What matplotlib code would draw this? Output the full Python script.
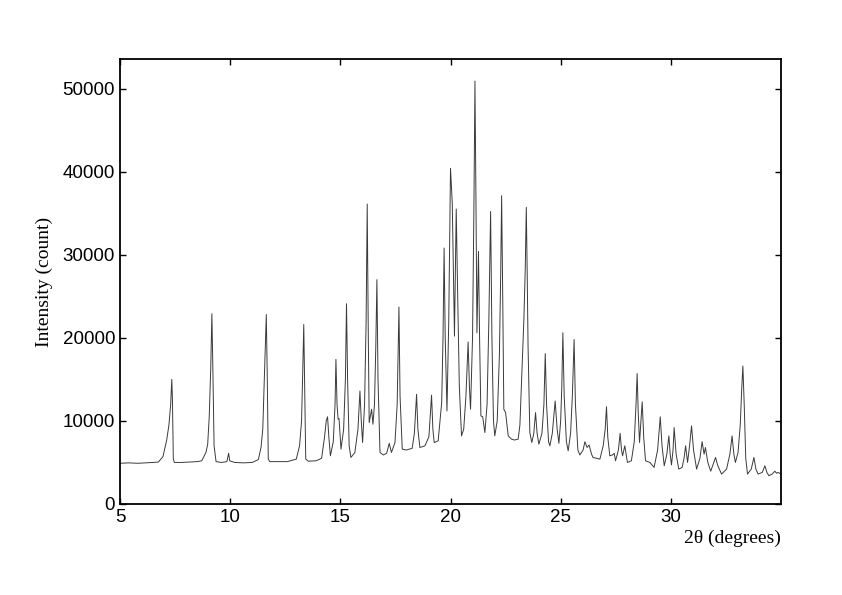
#! /usr/bin/env python3
import numpy as np
import matplotlib
matplotlib.use('Agg')
import matplotlib.pyplot as plt

# powder pattern (2theta in deg, intensity in counts)
two_theta = [
    5.00, 5.40, 5.80, 6.20, 6.50, 6.74, 6.95, 7.12, 7.22, 7.30,
    7.35, 7.38, 7.42, 7.47, 7.80, 8.20, 8.50, 8.71, 8.90, 8.98,
    9.05, 9.12, 9.17, 9.21, 9.27, 9.36, 9.60, 9.85, 9.93, 9.98,
    10.20, 10.60, 11.00, 11.28, 11.40, 11.48, 11.55, 11.64, 11.68, 11.73,
    11.80, 12.20, 12.60, 13.00, 13.15, 13.24, 13.29, 13.34, 13.38, 13.43,
    13.55, 13.90, 14.15, 14.28, 14.36, 14.42, 14.48, 14.55, 14.68, 14.76,
    14.80, 14.85, 14.90, 14.94, 15.03, 15.15, 15.23, 15.28, 15.33, 15.40,
    15.48, 15.66, 15.80, 15.89, 15.95, 16.01, 16.10, 16.17, 16.22, 16.27,
    16.31, 16.36, 16.42, 16.48, 16.55, 16.61, 16.66, 16.71, 16.80, 16.95,
    17.10, 17.22, 17.32, 17.48, 17.58, 17.66, 17.71, 17.81, 18.00, 18.26,
    18.36, 18.46, 18.52, 18.61, 18.84, 19.02, 19.14, 19.20, 19.26, 19.44,
    19.60, 19.66, 19.71, 19.76, 19.84, 19.92, 20.00, 20.08, 20.14, 20.18,
    20.26, 20.32, 20.40, 20.50, 20.60, 20.70, 20.80, 20.86, 20.91, 21.00,
    21.06, 21.11, 21.16, 21.20, 21.27, 21.32, 21.38, 21.46, 21.56, 21.66,
    21.74, 21.82, 21.88, 21.95, 22.01, 22.12, 22.22, 22.28, 22.32, 22.37,
    22.42, 22.50, 22.62, 22.77, 22.90, 23.07, 23.15, 23.23, 23.33, 23.39,
    23.44, 23.48, 23.52, 23.60, 23.69, 23.78, 23.86, 23.93, 24.01, 24.15,
    24.24, 24.30, 24.36, 24.45, 24.51, 24.62, 24.75, 24.84, 24.92, 25.00,
    25.05, 25.10, 25.16, 25.26, 25.34, 25.45, 25.53, 25.61, 25.67, 25.78,
    25.87, 26.02, 26.10, 26.20, 26.29, 26.40, 26.47, 26.78, 26.93, 27.02,
    27.08, 27.14, 27.23, 27.35, 27.43, 27.49, 27.62, 27.70, 27.76, 27.81,
    27.91, 28.03, 28.21, 28.34, 28.42, 28.47, 28.52, 28.58, 28.70, 28.77,
    28.85, 29.05, 29.24, 29.40, 29.52, 29.60, 29.70, 29.82, 29.91, 29.97,
    30.03, 30.10, 30.15, 30.24, 30.36, 30.51, 30.60, 30.67, 30.76, 30.85,
    30.94, 31.03, 31.17, 31.32, 31.42, 31.51, 31.57, 31.68, 31.81, 31.95,
    32.03, 32.12, 32.30, 32.53, 32.68, 32.78, 32.86, 32.93, 33.05, 33.15,
    33.22, 33.27, 33.33, 33.40, 33.48, 33.65, 33.77, 33.86, 33.96, 34.15,
    34.27, 34.36, 34.45, 34.60, 34.72, 34.80, 34.87, 35.00,
]
intensity = [
    4900, 4950, 4900, 4950, 5000, 5050, 5700, 7700, 9500, 12000,
    15000, 12500, 5400, 5000, 5000, 5050, 5100, 5200, 6200, 7200,
    10500, 16500, 22900, 17000, 7000, 5100, 5000, 5100, 6100, 5200,
    5000, 4950, 5000, 5350, 6800, 9000, 15000, 22800, 16000, 5400,
    5100, 5100, 5100, 5400, 7000, 10000, 15500, 21600, 14000, 5400,
    5150, 5200, 5500, 8000, 10000, 10500, 8000, 5800, 7500, 12000,
    17400, 12000, 10200, 10300, 6600, 9000, 15000, 24100, 15000, 7000,
    5600, 6200, 9000, 13600, 10000, 7400, 12000, 22000, 36100, 20000,
    9800, 10500, 11400, 9600, 12000, 19000, 27000, 15000, 6200, 5900,
    6100, 7300, 6200, 7400, 12000, 23700, 13000, 6600, 6500, 6700,
    8500, 13200, 9000, 6800, 7000, 8100, 13100, 9000, 7400, 7600,
    12200, 20000, 30800, 20000, 11200, 22000, 40400, 36200, 26200, 20200,
    35500, 26000, 14200, 8200, 9000, 13000, 19500, 14000, 11400, 20000,
    35000, 50900, 35000, 20600, 30400, 20000, 10600, 10500, 8600, 12000,
    22000, 35200, 20000, 10000, 8200, 10000, 18000, 28000, 37100, 25000,
    11400, 11000, 8200, 7800, 7700, 7800, 9500, 15000, 22200, 28000,
    35700, 28000, 19000, 8600, 7400, 8500, 11000, 8500, 7200, 8500,
    12000, 18100, 12000, 7500, 7000, 8500, 12400, 9000, 7300, 10000,
    14000, 20600, 13000, 7500, 6400, 8500, 13000, 19800, 12000, 6500,
    5900, 6500, 7500, 6800, 7100, 6000, 5600, 5400, 7000, 9000,
    11700, 8000, 5800, 5900, 6100, 5200, 6500, 8500, 6500, 5800,
    7000, 5000, 5200, 7500, 12000, 15700, 11000, 7400, 12300, 8000,
    5200, 5000, 4400, 6500, 10500, 7000, 4600, 6000, 8200, 6000,
    4700, 6500, 9200, 6000, 4200, 4400, 5500, 7000, 5000, 7000,
    9400, 6500, 4200, 5500, 7500, 6000, 6800, 5000, 3950, 5000,
    5600, 4700, 3600, 4200, 6000, 8200, 6000, 5000, 6200, 9500,
    14000, 16600, 12000, 5500, 3600, 4200, 5600, 4200, 3600, 3800,
    4600, 3800, 3400, 3600, 3950, 3700, 3800, 3600,
]

x_ticks = [5, 10, 15, 20, 25, 30]
y_ticks = [0, 10000, 20000, 30000, 40000, 50000]

fig = plt.figure(figsize=(8.42, 5.95), dpi=100)
ax = fig.add_axes([120/842, 91/595, 661/842, 445/595])
ax.plot(two_theta, intensity, color='#3a3a3a', lw=0.7)

ax.set_xlim(5, 35)
ax.set_ylim(0, 53550)
ax.set_xticks(x_ticks)
ax.set_yticks(y_ticks)
ax.tick_params(direction='in', top=True, right=True, length=4.5, width=1,
               labelsize=13.5, pad=3.5)
for lab in ax.get_xticklabels() + ax.get_yticklabels():
    lab.set_family('Liberation Sans')
for sp in ax.spines.values():
    sp.set_linewidth(1.3)

serif = {'family': 'Liberation Serif', 'size': 14}
ax.set_xlabel('2\u03b8 (degrees)', fontdict=serif, loc='right', labelpad=3)
ax.set_ylabel('Intensity (count)', fontdict=serif, labelpad=7)

fig.savefig('out.png', dpi=100)
